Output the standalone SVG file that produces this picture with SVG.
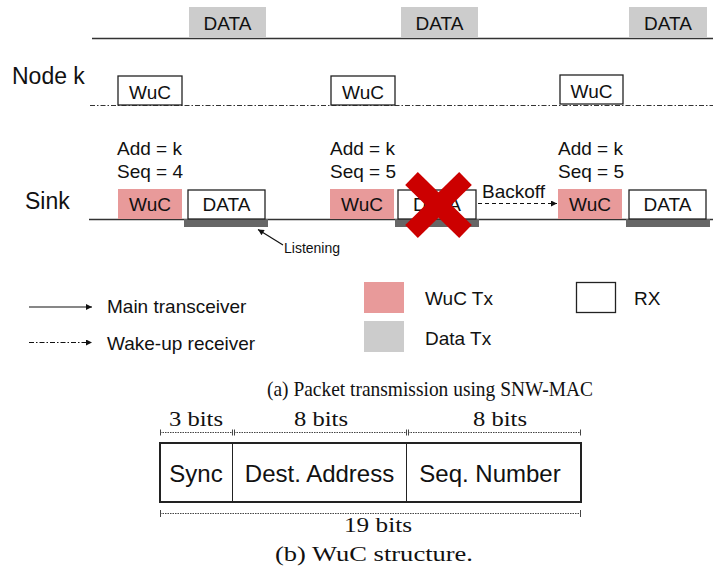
<svg xmlns="http://www.w3.org/2000/svg" width="713" height="578" viewBox="0 0 713 578">
<style>
  .sans{font-family:"Liberation Sans",Arial,sans-serif;fill:#111}
  .lbl{font-size:19px}
  .big{font-size:23px}
  .small{font-size:14px}
  .serif{font-family:"Liberation Serif","Times New Roman",serif;fill:#111}
  .gray{fill:#cccccc}
  .pink{fill:#e89a9a}
  .rx{fill:#ffffff;stroke:#222;stroke-width:1.3}
  .bar{fill:#666666}
  .dd{fill:none;stroke:#333;stroke-width:1.2;stroke-dasharray:5 2 1.5 2}
  .solid{fill:none;stroke:#333;stroke-width:1.5}
  .dim{fill:none;stroke:#444;stroke-width:1;stroke-dasharray:1.5 1}
  .tick{stroke:#444;stroke-width:1}
</style>
<defs>
  <marker id="ah" viewBox="0 0 10 10" refX="10" refY="5" markerWidth="8" markerHeight="6" markerUnits="userSpaceOnUse" orient="auto">
    <path d="M0,0 L10,5 L0,10 z" fill="#111"/>
  </marker>
</defs>

<g id="timeline-lines">
  <line class="solid" x1="92" y1="38.5" x2="713" y2="38.5"/>
  <line class="dd" x1="90" y1="105.5" x2="713" y2="105.5"/>
  <line class="solid" x1="89" y1="219.5" x2="713" y2="219.5"/>
</g>

<g id="row-labels">
  <text class="sans big" x="12" y="84">Node k</text>
  <text class="sans big" x="25" y="209">Sink</text>
</g>

<g id="data-top-1"><rect class="gray" x="189" y="7" width="77" height="31"/><text class="sans lbl" x="227.5" y="30" text-anchor="middle">DATA</text></g>
<g id="data-top-2"><rect class="gray" x="401" y="7" width="77" height="31"/><text class="sans lbl" x="439.5" y="30" text-anchor="middle">DATA</text></g>
<g id="data-top-3"><rect class="gray" x="629" y="7" width="78" height="31"/><text class="sans lbl" x="668" y="30" text-anchor="middle">DATA</text></g>

<g id="node-wuc-1"><rect class="rx" x="118" y="76" width="64" height="29"/><text class="sans lbl" x="150" y="99" text-anchor="middle">WuC</text></g>
<g id="node-wuc-2"><rect class="rx" x="331" y="76" width="64" height="29"/><text class="sans lbl" x="363" y="99" text-anchor="middle">WuC</text></g>
<g id="node-wuc-3"><rect class="rx" x="560" y="75" width="63" height="29"/><text class="sans lbl" x="591.5" y="98" text-anchor="middle">WuC</text></g>

<g id="info-1"><text class="sans lbl" x="117" y="155">Add = k</text><text class="sans lbl" x="117" y="178">Seq = 4</text></g>
<g id="info-2"><text class="sans lbl" x="330" y="155">Add = k</text><text class="sans lbl" x="330" y="178">Seq = 5</text></g>
<g id="info-3"><text class="sans lbl" x="558" y="155">Add = k</text><text class="sans lbl" x="558" y="178">Seq = 5</text></g>

<g id="sink-wuc-1"><rect class="pink" x="118" y="189" width="64" height="30"/><text class="sans lbl" x="150" y="211" text-anchor="middle">WuC</text></g>
<g id="sink-data-1"><rect class="bar" x="184" y="219" width="84" height="8"/><rect class="rx" x="188" y="190" width="77" height="29"/><text class="sans lbl" x="226.5" y="211" text-anchor="middle">DATA</text></g>

<g id="sink-wuc-2"><rect class="pink" x="330" y="189" width="64" height="30"/><text class="sans lbl" x="362" y="211" text-anchor="middle">WuC</text></g>
<g id="sink-data-2"><rect class="bar" x="395" y="219" width="84" height="8"/><rect class="rx" x="398" y="190" width="78" height="29"/><text class="sans lbl" x="437" y="211" text-anchor="middle">DATA</text></g>
<g id="fail-x">
  <line x1="411.5" y1="178.5" x2="465.5" y2="231.5" stroke="#cc0000" stroke-width="18"/>
  <line x1="465.5" y1="178.5" x2="411.5" y2="231.5" stroke="#cc0000" stroke-width="18"/>
</g>

<g id="sink-wuc-3"><rect class="pink" x="558" y="189" width="64" height="30"/><text class="sans lbl" x="590" y="211" text-anchor="middle">WuC</text></g>
<g id="sink-data-3"><rect class="bar" x="626" y="219" width="84" height="8"/><rect class="rx" x="629" y="190" width="77" height="29"/><text class="sans lbl" x="667.5" y="211" text-anchor="middle">DATA</text></g>

<g id="connectors">
  <line x1="478" y1="203.5" x2="557" y2="203.5" stroke="#111" stroke-width="1.2" stroke-dasharray="4 3" marker-end="url(#ah)"/>
  <line x1="283" y1="245" x2="258" y2="229.5" stroke="#111" stroke-width="1.2" marker-end="url(#ah)"/>
  <line x1="29" y1="307" x2="92" y2="307" stroke="#111" stroke-width="1.2" marker-end="url(#ah)"/>
  <line x1="29" y1="342.5" x2="92" y2="342.5" stroke="#111" stroke-width="1.2" stroke-dasharray="5 2 1.5 2" marker-end="url(#ah)"/>
</g>

<g id="annotations">
  <text class="sans lbl" x="482" y="198">Backoff</text>
  <text class="sans small" x="284" y="253">Listening</text>
</g>

<g id="legend">
  <text class="sans lbl" x="107" y="313">Main transceiver</text>
  <text class="sans lbl" x="107" y="350">Wake-up receiver</text>
  <rect class="pink" x="364" y="282" width="40" height="31"/>
  <text class="sans lbl" x="425" y="305">WuC Tx</text>
  <rect class="gray" x="364" y="321" width="40" height="31"/>
  <text class="sans lbl" x="425" y="345">Data Tx</text>
  <rect class="rx" x="576.5" y="282.5" width="39" height="30"/>
  <text class="sans lbl" x="634" y="305">RX</text>
</g>

<text class="serif" x="267" y="396" font-size="22" textLength="326" lengthAdjust="spacingAndGlyphs">(a) Packet transmission using SNW-MAC</text>

<g id="wuc-structure">
  <text class="serif" x="169" y="426" font-size="22" textLength="54" lengthAdjust="spacingAndGlyphs">3 bits</text>
  <text class="serif" x="294" y="426" font-size="22" textLength="54" lengthAdjust="spacingAndGlyphs">8 bits</text>
  <text class="serif" x="473" y="426" font-size="22" textLength="54" lengthAdjust="spacingAndGlyphs">8 bits</text>
  <line class="dim" x1="160" y1="432.5" x2="232" y2="432.5"/>
  <line class="dim" x1="234" y1="432.5" x2="406" y2="432.5"/>
  <line class="dim" x1="408" y1="432.5" x2="581" y2="432.5"/>
  <line class="tick" x1="160.5" y1="429.5" x2="160.5" y2="435.5"/>
  <line class="tick" x1="232.5" y1="429.5" x2="232.5" y2="435.5"/>
  <line class="tick" x1="234.5" y1="429.5" x2="234.5" y2="435.5"/>
  <line class="tick" x1="406.5" y1="429.5" x2="406.5" y2="435.5"/>
  <line class="tick" x1="408.5" y1="429.5" x2="408.5" y2="435.5"/>
  <line class="tick" x1="580.5" y1="429.5" x2="580.5" y2="435.5"/>
  <rect x="160" y="443" width="421" height="59" fill="#fff" stroke="#222" stroke-width="2"/>
  <line x1="232.5" y1="443" x2="232.5" y2="502" stroke="#222" stroke-width="1"/>
  <line x1="406.5" y1="443" x2="406.5" y2="502" stroke="#222" stroke-width="1"/>
  <text class="sans" x="196" y="482" font-size="24" text-anchor="middle">Sync</text>
  <text class="sans" x="319.5" y="482" font-size="24" text-anchor="middle">Dest. Address</text>
  <text class="sans" x="490" y="482" font-size="24" text-anchor="middle">Seq. Number</text>
  <line class="dim" x1="160" y1="513.5" x2="581" y2="513.5"/>
  <line class="tick" x1="160.5" y1="510" x2="160.5" y2="517"/>
  <line class="tick" x1="580.5" y1="510" x2="580.5" y2="517"/>
  <text class="serif" x="344" y="532" font-size="22" textLength="68" lengthAdjust="spacingAndGlyphs">19 bits</text>
  <text class="serif" x="275" y="561" font-size="22" textLength="198" lengthAdjust="spacingAndGlyphs">(b) WuC structure.</text>
</g>
</svg>
